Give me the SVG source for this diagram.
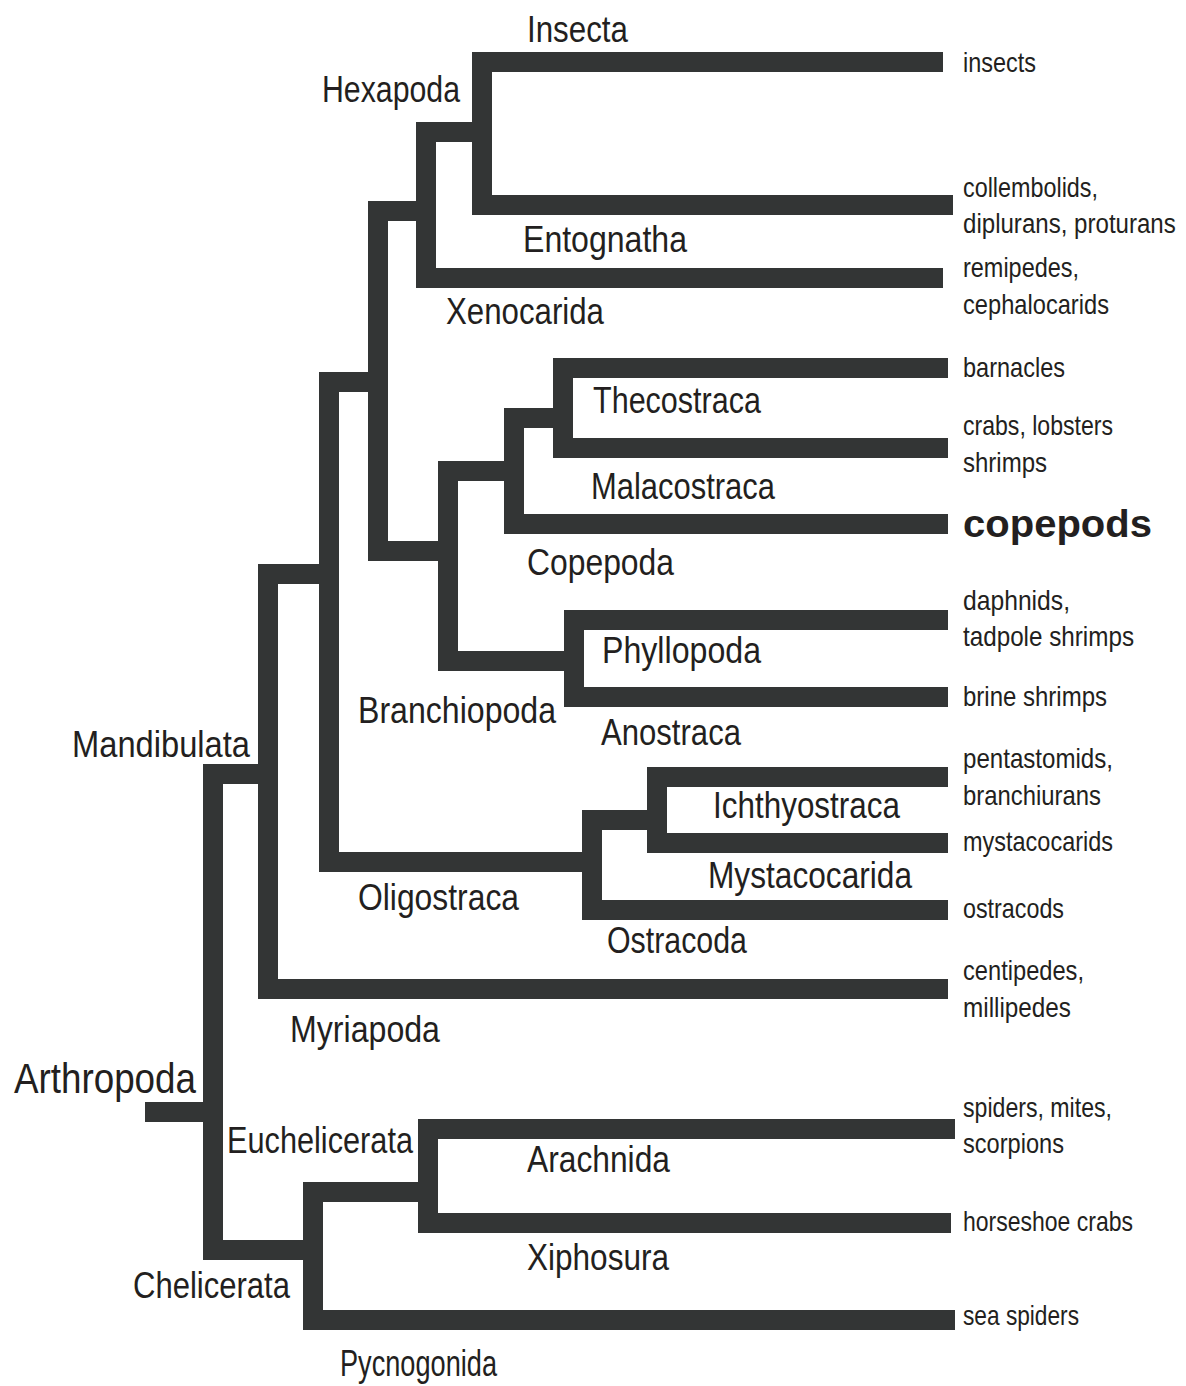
<svg xmlns="http://www.w3.org/2000/svg" width="1186" height="1386" viewBox="0 0 1186 1386">
<style>
.br{fill:none;stroke:#333535;stroke-width:20;stroke-linejoin:miter;stroke-linecap:butt}
text{font-family:"Liberation Sans",Arial,sans-serif;fill:#231f20}
.lbl{font-size:36px}
.root{font-size:43px}
.tip{font-size:28px}
.hl{font-size:38px;font-weight:bold}
</style>
<rect width="1186" height="1386" fill="#ffffff"/>
<g id="connectors">
<path class="br" d="M145 1112 H213"/>
<path class="br" d="M268 774 H213 V1250 H313"/>
<path class="br" d="M329 574 H268 V989 H948"/>
<path class="br" d="M378 382 H329 V862 H592"/>
<path class="br" d="M426 211 H378 V551 H448"/>
<path class="br" d="M482 132 H426 V278 H943"/>
<path class="br" d="M943 62 H482 V205 H953"/>
<path class="br" d="M514 471 H448 V661 H574"/>
<path class="br" d="M563 418 H514 V524 H948"/>
<path class="br" d="M948 368 H563 V448 H948"/>
<path class="br" d="M948 620 H574 V697 H948"/>
<path class="br" d="M657 820 H592 V910 H948"/>
<path class="br" d="M948 777 H657 V843 H948"/>
<path class="br" d="M428 1192 H313 V1320 H955"/>
<path class="br" d="M955 1129 H428 V1223 H951"/>
</g>
<g id="arthropoda"><text class="root" x="14" y="1093" textLength="182" lengthAdjust="spacingAndGlyphs">Arthropoda</text></g>
<g id="mandibulata"><text class="lbl" x="72" y="757" textLength="178" lengthAdjust="spacingAndGlyphs">Mandibulata</text></g>
<g id="hexapoda"><text class="lbl" x="322" y="102" textLength="138" lengthAdjust="spacingAndGlyphs">Hexapoda</text></g>
<g id="insecta"><text class="lbl" x="527" y="42" textLength="101" lengthAdjust="spacingAndGlyphs">Insecta</text></g>
<g id="entognatha"><text class="lbl" x="523" y="252" textLength="164" lengthAdjust="spacingAndGlyphs">Entognatha</text></g>
<g id="xenocarida"><text class="lbl" x="446" y="324" textLength="158" lengthAdjust="spacingAndGlyphs">Xenocarida</text></g>
<g id="thecostraca"><text class="lbl" x="593" y="413" textLength="168" lengthAdjust="spacingAndGlyphs">Thecostraca</text></g>
<g id="malacostraca"><text class="lbl" x="591" y="499" textLength="184" lengthAdjust="spacingAndGlyphs">Malacostraca</text></g>
<g id="copepoda"><text class="lbl" x="527" y="575" textLength="147" lengthAdjust="spacingAndGlyphs">Copepoda</text></g>
<g id="phyllopoda"><text class="lbl" x="602" y="663" textLength="159" lengthAdjust="spacingAndGlyphs">Phyllopoda</text></g>
<g id="branchiopoda"><text class="lbl" x="358" y="723" textLength="198" lengthAdjust="spacingAndGlyphs">Branchiopoda</text></g>
<g id="anostraca"><text class="lbl" x="601" y="745" textLength="140" lengthAdjust="spacingAndGlyphs">Anostraca</text></g>
<g id="ichthyostraca"><text class="lbl" x="713" y="818" textLength="187" lengthAdjust="spacingAndGlyphs">Ichthyostraca</text></g>
<g id="mystacocarida"><text class="lbl" x="708" y="888" textLength="204" lengthAdjust="spacingAndGlyphs">Mystacocarida</text></g>
<g id="oligostraca"><text class="lbl" x="358" y="910" textLength="161" lengthAdjust="spacingAndGlyphs">Oligostraca</text></g>
<g id="ostracoda"><text class="lbl" x="607" y="953" textLength="140" lengthAdjust="spacingAndGlyphs">Ostracoda</text></g>
<g id="myriapoda"><text class="lbl" x="290" y="1042" textLength="150" lengthAdjust="spacingAndGlyphs">Myriapoda</text></g>
<g id="euchelicerata"><text class="lbl" x="227" y="1153" textLength="186" lengthAdjust="spacingAndGlyphs">Euchelicerata</text></g>
<g id="chelicerata"><text class="lbl" x="133" y="1298" textLength="157" lengthAdjust="spacingAndGlyphs">Chelicerata</text></g>
<g id="arachnida"><text class="lbl" x="527" y="1172" textLength="143" lengthAdjust="spacingAndGlyphs">Arachnida</text></g>
<g id="xiphosura"><text class="lbl" x="527" y="1270" textLength="142" lengthAdjust="spacingAndGlyphs">Xiphosura</text></g>
<g id="pycnogonida"><text class="lbl" x="340" y="1376" textLength="157" lengthAdjust="spacingAndGlyphs">Pycnogonida</text></g>
<g id="tip-insects"><text class="tip" x="963" y="72" textLength="73" lengthAdjust="spacingAndGlyphs">insects</text></g>
<g id="tip-collembolids"><text class="tip" x="963" y="197" textLength="135" lengthAdjust="spacingAndGlyphs">collembolids,</text><text class="tip" transform="translate(963 233) scale(0.86 1)">diplurans, proturans</text></g>
<g id="tip-remipedes"><text class="tip" x="963" y="277" textLength="116" lengthAdjust="spacingAndGlyphs">remipedes,</text><text class="tip" x="963" y="314" textLength="146" lengthAdjust="spacingAndGlyphs">cephalocarids</text></g>
<g id="tip-barnacles"><text class="tip" x="963" y="377" textLength="102" lengthAdjust="spacingAndGlyphs">barnacles</text></g>
<g id="tip-crabs"><text class="tip" x="963" y="435" textLength="150" lengthAdjust="spacingAndGlyphs">crabs, lobsters</text><text class="tip" x="963" y="472" textLength="84" lengthAdjust="spacingAndGlyphs">shrimps</text></g>
<g id="tip-copepods"><text class="hl" x="963" y="537" textLength="189" lengthAdjust="spacingAndGlyphs">copepods</text></g>
<g id="tip-daphnids"><text class="tip" x="963" y="610" textLength="107" lengthAdjust="spacingAndGlyphs">daphnids,</text><text class="tip" x="963" y="646" textLength="171" lengthAdjust="spacingAndGlyphs">tadpole shrimps</text></g>
<g id="tip-brine"><text class="tip" x="963" y="706" textLength="144" lengthAdjust="spacingAndGlyphs">brine shrimps</text></g>
<g id="tip-pentastomids"><text class="tip" x="963" y="768" textLength="150" lengthAdjust="spacingAndGlyphs">pentastomids,</text><text class="tip" x="963" y="805" textLength="138" lengthAdjust="spacingAndGlyphs">branchiurans</text></g>
<g id="tip-mystacocarids"><text class="tip" x="963" y="851" textLength="150" lengthAdjust="spacingAndGlyphs">mystacocarids</text></g>
<g id="tip-ostracods"><text class="tip" x="963" y="918" textLength="101" lengthAdjust="spacingAndGlyphs">ostracods</text></g>
<g id="tip-centipedes"><text class="tip" x="963" y="980" textLength="121" lengthAdjust="spacingAndGlyphs">centipedes,</text><text class="tip" x="963" y="1017" textLength="108" lengthAdjust="spacingAndGlyphs">millipedes</text></g>
<g id="tip-spiders"><text class="tip" x="963" y="1117" textLength="149" lengthAdjust="spacingAndGlyphs">spiders, mites,</text><text class="tip" x="963" y="1153" textLength="101" lengthAdjust="spacingAndGlyphs">scorpions</text></g>
<g id="tip-horseshoe"><text class="tip" x="963" y="1231" textLength="170" lengthAdjust="spacingAndGlyphs">horseshoe crabs</text></g>
<g id="tip-seaspiders"><text class="tip" x="963" y="1325" textLength="116" lengthAdjust="spacingAndGlyphs">sea spiders</text></g>
</svg>
